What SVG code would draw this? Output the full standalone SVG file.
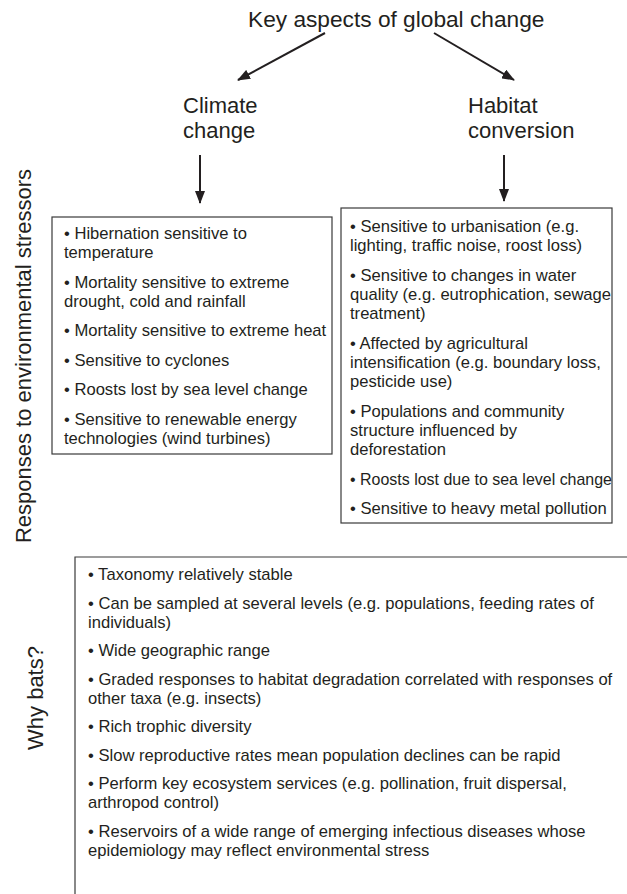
<svg xmlns="http://www.w3.org/2000/svg" width="627" height="894" viewBox="0 0 627 894">
<style>
text{font-family:"Liberation Sans",Arial,sans-serif;fill:#231f20}
.h{font-size:22px}
.t{font-size:22.7px}
.b{font-size:16.6px}
.box{fill:none;stroke:#3a3a3a;stroke-width:1.2}
.arr{fill:none;stroke:#231f20;stroke-width:2}
</style>
<defs>
<marker id="ah" markerUnits="userSpaceOnUse" markerWidth="13" markerHeight="10" refX="12" refY="5" orient="auto">
<path d="M0,0 L13,5 L0,10 Z" fill="#231f20"/>
</marker>
</defs>
<rect width="627" height="894" fill="#fff"/>

<g id="title"><text class="t" x="248" y="27">Key aspects of global change</text></g>
<g id="climate"><text class="h" x="183" y="113">Climate</text><text class="h" x="183" y="138">change</text></g>
<g id="habitat"><text class="h" x="468" y="113">Habitat</text><text class="h" x="468" y="138">conversion</text></g>

<g id="connectors">
<line class="arr" x1="325" y1="33" x2="238" y2="80" marker-end="url(#ah)"/>
<line class="arr" x1="434" y1="33" x2="514" y2="80" marker-end="url(#ah)"/>
<line class="arr" x1="200" y1="155" x2="200" y2="203" marker-end="url(#ah)"/>
<line class="arr" x1="504" y1="155" x2="504" y2="201" marker-end="url(#ah)"/>
</g>

<g id="label-responses"><text class="h" transform="translate(31,356) rotate(-90)" text-anchor="middle">Responses to environmental stressors</text></g>

<g id="climate-box">
<rect class="box" x="52" y="217" width="280" height="237"/>
<text class="b" x="64" y="239">• Hibernation sensitive to</text>
<text class="b" x="64" y="258">temperature</text>
<text class="b" x="64" y="287.5">• Mortality sensitive to extreme</text>
<text class="b" x="64" y="306.5">drought, cold and rainfall</text>
<text class="b" x="64" y="336">• Mortality sensitive to extreme heat</text>
<text class="b" x="64" y="365.5">• Sensitive to cyclones</text>
<text class="b" x="64" y="395">• Roosts lost by sea level change</text>
<text class="b" x="64" y="424.5">• Sensitive to renewable energy</text>
<text class="b" x="64" y="443.5">technologies (wind turbines)</text>
</g>

<g id="habitat-box">
<rect class="box" x="341" y="208" width="271" height="315"/>
<text class="b" x="350" y="232">• Sensitive to urbanisation (e.g.</text>
<text class="b" x="350" y="251">lighting, traffic noise, roost loss)</text>
<text class="b" x="350" y="281">• Sensitive to changes in water</text>
<text class="b" x="350" y="300">quality (e.g. eutrophication, sewage</text>
<text class="b" x="350" y="319">treatment)</text>
<text class="b" x="350" y="349">• Affected by agricultural</text>
<text class="b" x="350" y="368">intensification (e.g. boundary loss,</text>
<text class="b" x="350" y="387">pesticide use)</text>
<text class="b" x="350" y="417">• Populations and community</text>
<text class="b" x="350" y="436">structure influenced by</text>
<text class="b" x="350" y="455">deforestation</text>
<text class="b" x="350" y="484.5" textLength="262" lengthAdjust="spacingAndGlyphs">• Roosts lost due to sea level change</text>
<text class="b" x="350" y="514">• Sensitive to heavy metal pollution</text>
</g>

<g id="label-why"><text class="h" transform="translate(43,698) rotate(-90)" text-anchor="middle">Why bats?</text></g>

<g id="why-box">
<path class="box" d="M75,894 V557 H627"/>
<text class="b" x="88" y="580">• Taxonomy relatively stable</text>
<text class="b" x="88" y="608.5">• Can be sampled at several levels (e.g. populations, feeding rates of</text>
<text class="b" x="88" y="627.5">individuals)</text>
<text class="b" x="88" y="656">• Wide geographic range</text>
<text class="b" x="88" y="684.5">• Graded responses to habitat degradation correlated with responses of</text>
<text class="b" x="88" y="703.5">other taxa (e.g. insects)</text>
<text class="b" x="88" y="732">• Rich trophic diversity</text>
<text class="b" x="88" y="760.5">• Slow reproductive rates mean population declines can be rapid</text>
<text class="b" x="88" y="789">• Perform key ecosystem services (e.g. pollination, fruit dispersal,</text>
<text class="b" x="88" y="808">arthropod control)</text>
<text class="b" x="88" y="836.5">• Reservoirs of a wide range of emerging infectious diseases whose</text>
<text class="b" x="88" y="855.5">epidemiology may reflect environmental stress</text>
</g>
</svg>
